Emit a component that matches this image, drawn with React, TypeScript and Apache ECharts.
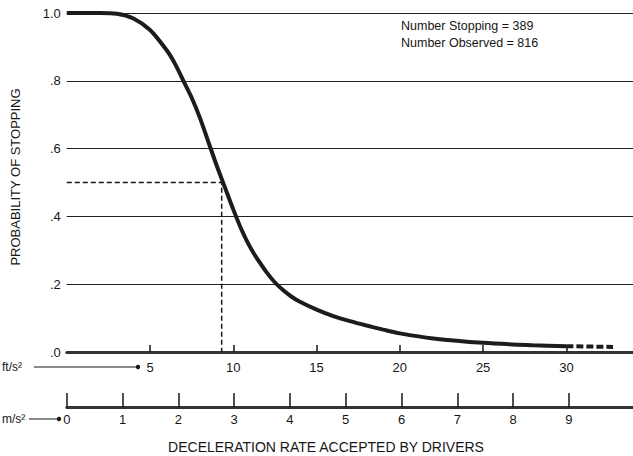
import React, { useEffect, useRef } from "react";
import * as echarts from "echarts";

// Deceleration rate accepted by drivers (ft/s^2) and probability of stopping
const accelFt = [0, 1, 2, 3, 4, 5, 6, 6.5, 7, 7.5, 8, 8.5, 9, 9.5, 10, 10.5, 11, 11.5, 12, 12.5, 13, 13.5, 14, 15, 16, 17, 18, 19, 20, 22, 25, 28, 30];
const probStop = [1.0, 1.0, 1.0, 0.998, 0.984, 0.95, 0.89, 0.85, 0.8, 0.75, 0.69, 0.62, 0.55, 0.485, 0.42, 0.36, 0.31, 0.27, 0.235, 0.205, 0.182, 0.163, 0.148, 0.125, 0.106, 0.091, 0.078, 0.066, 0.055, 0.04, 0.027, 0.02, 0.017];
// extrapolated (dashed) tail
const tailFt = [30, 31.5, 32.8];
const tailProb = [0.017, 0.016, 0.015];
// 50% point
const medianFt = 9.3;
const medianProb = 0.5;

const ftTicks = [5, 10, 15, 20, 25, 30];
const msTicks = [0, 1, 2, 3, 4, 5, 6, 7, 8, 9];
const annotationLines = ["Number Stopping = 389", "Number Observed = 816"];
const yTitle = "PROBABILITY OF STOPPING";
const xTitle = "DECELERATION RATE ACCEPTED BY DRIVERS";

const FONT = "'Liberation Sans', Arial, Helvetica, sans-serif";
const INK = "#161616";

export default function App() {
  const ref = useRef<HTMLDivElement>(null);
  useEffect(() => {
    if (!ref.current) return;
    const chart = echarts.init(ref.current, null, { renderer: "svg" });
    const mainData = accelFt.map((x, i) => [x, probStop[i]]);
    const tailData = tailFt.map((x, i) => [x, tailProb[i]]);
    const refData = [
      [0, medianProb],
      [medianFt, medianProb],
      [medianFt, 0],
    ];
    chart.setOption({
      animation: false,
      backgroundColor: "#ffffff",
      textStyle: { fontFamily: FONT, color: INK },
      grid: { left: 66.8, right: 0, top: 13, bottom: 104, containLabel: false },
      xAxis: [
        {
          type: "value",
          min: 0,
          max: 34,
          position: "bottom",
          axisLine: { show: true, lineStyle: { color: "#333", width: 3 } },
          axisTick: {
            show: true,
            inside: true,
            length: 7,
            customValues: ftTicks,
            lineStyle: { color: INK, width: 1.5 },
          },
          axisLabel: {
            customValues: ftTicks,
            margin: 9,
            fontSize: 13,
            color: INK,
            fontFamily: FONT,
          },
          splitLine: { show: false },
        },
        {
          type: "value",
          min: 0,
          max: 10.15,
          position: "bottom",
          offset: 55,
          axisLine: { show: true, lineStyle: { color: "#333", width: 3 } },
          axisTick: {
            show: true,
            inside: true,
            length: 14,
            customValues: msTicks,
            lineStyle: { color: INK, width: 1.5 },
          },
          axisLabel: {
            customValues: msTicks,
            margin: 6,
            fontSize: 13,
            color: INK,
            fontFamily: FONT,
          },
          splitLine: { show: false },
        },
      ],
      yAxis: {
        type: "value",
        min: 0,
        max: 1,
        interval: 0.2,
        axisLine: { show: false },
        axisTick: { show: false },
        axisLabel: {
          margin: 6,
          fontSize: 13,
          color: INK,
          fontFamily: FONT,
          formatter: (v: number) => (v >= 1 ? "1.0" : v.toFixed(1).replace(/^0/, "")),
        },
        splitLine: { show: true, lineStyle: { color: "#222", width: 1 } },
      },
      series: [
        {
          type: "line",
          data: refData,
          xAxisIndex: 0,
          showSymbol: false,
          lineStyle: { color: INK, width: 1.5, type: [5, 3] },
          z: 2,
        },
        {
          type: "line",
          data: mainData,
          xAxisIndex: 0,
          smooth: 0.3,
          showSymbol: false,
          lineStyle: { color: "#1c1c1c", width: 4 },
          z: 3,
        },
        {
          type: "line",
          data: tailData,
          xAxisIndex: 0,
          showSymbol: false,
          lineStyle: { color: "#1c1c1c", width: 4, type: [7, 3] },
          z: 3,
        },
      ],
      graphic: [
        {
          type: "text",
          left: 401,
          top: 17,
          style: {
            text: annotationLines.join("\n"),
            font: `12.5px ${FONT}`,
            fill: INK,
            lineHeight: 17,
          },
        },
        {
          type: "text",
          x: 15.5,
          y: 177,
          rotation: Math.PI / 2,
          style: {
            text: yTitle,
            font: `13px ${FONT}`,
            fill: INK,
            align: "center",
            verticalAlign: "middle",
          },
        },
        {
          type: "text",
          x: 326,
          y: 447,
          style: {
            text: xTitle,
            font: `14px ${FONT}`,
            fill: INK,
            align: "center",
            verticalAlign: "middle",
          },
        },
        {
          type: "text",
          x: 2,
          y: 367,
          style: { text: "ft/s²", font: `12px ${FONT}`, fill: INK, verticalAlign: "middle" },
        },
        {
          type: "line",
          shape: { x1: 34, y1: 367, x2: 137, y2: 367 },
          style: { stroke: INK, lineWidth: 1 },
        },
        { type: "circle", shape: { cx: 138, cy: 367, r: 2.2 }, style: { fill: INK } },
        {
          type: "text",
          x: 2,
          y: 419,
          style: { text: "m/s²", font: `12px ${FONT}`, fill: INK, verticalAlign: "middle" },
        },
        {
          type: "line",
          shape: { x1: 29, y1: 419, x2: 59, y2: 419 },
          style: { stroke: INK, lineWidth: 1 },
        },
        { type: "circle", shape: { cx: 59, cy: 419, r: 2.2 }, style: { fill: INK } },
      ],
    });
    return () => chart.dispose();
  }, []);
  return (
    <div
      ref={ref}
      style={{ position: "fixed", left: 0, top: 0, width: 633, height: 456, background: "#fff" }}
    />
  );
}
